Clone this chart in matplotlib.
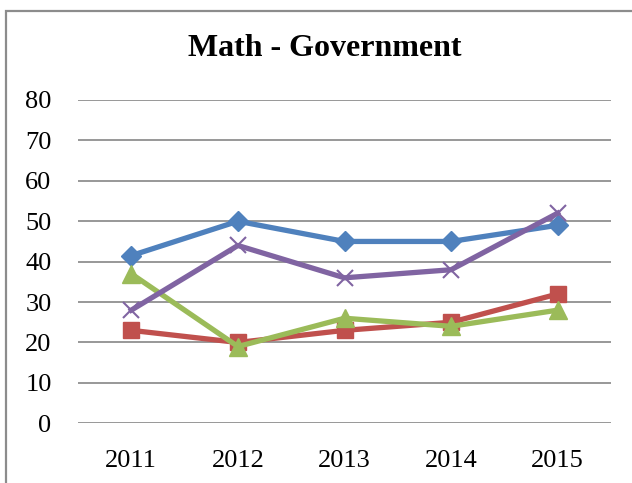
import matplotlib
matplotlib.use("Agg")
import matplotlib.pyplot as plt
from matplotlib.patches import Rectangle

# datos
years = ["2011", "2012", "2013", "2014", "2015"]
blue = [41.5, 50, 45, 45, 49]
red = [23, 20, 23, 25, 32]
green = [37, 19, 26, 24, 28]
purple = [28, 44, 36, 38, 52]

plt.rcParams["font.family"] = ["Liberation Serif", "DejaVu Serif"]

fig = plt.figure(figsize=(6.32, 4.83), dpi=100)
ax = fig.add_axes([78 / 632, 1 - 423.3 / 483, (611 - 78) / 632, (423.3 - 100) / 483])

# marco gris alrededor del grafico (cortado a la derecha y abajo)
fig.patches.append(Rectangle((6 / 632, -0.1), 1.2, 1.1 - 11 / 483,
                             transform=fig.transFigure, fill=False,
                             edgecolor="#8c8c8c", linewidth=1.6))

x = range(len(years))
ax.plot(x, blue, color="#4F81BD", lw=3.8, marker="D", ms=10, zorder=3)
ax.plot(x, red, color="#C0504D", lw=3.8, marker="s", ms=12, zorder=3)
ax.plot(x, green, color="#9BBB59", lw=3.8, marker="^", ms=13, zorder=3)
ax.plot(x, purple, color="#8064A2", lw=3.8, marker="x", ms=12, mew=1.5, zorder=4)

ax.set_xlim(-0.5, len(years) - 0.5)
ax.set_ylim(0, 80)
ax.set_yticks(range(0, 81, 10))
ax.set_xticks(list(x))
ax.set_xticklabels(years)
ax.grid(axis="y", color="#868686", linewidth=1.2)
ax.set_axisbelow(True)
for s in ax.spines.values():
    s.set_visible(False)
ax.tick_params(axis="both", length=0, labelsize=19)
ax.tick_params(axis="y", pad=19)
ax.tick_params(axis="x", pad=19)

fig.text(325 / 632, 1 - 48 / 483, "Math - Government", ha="center", va="center",
         fontsize=23, fontweight="bold")

plt.savefig("out.png", dpi=100)
